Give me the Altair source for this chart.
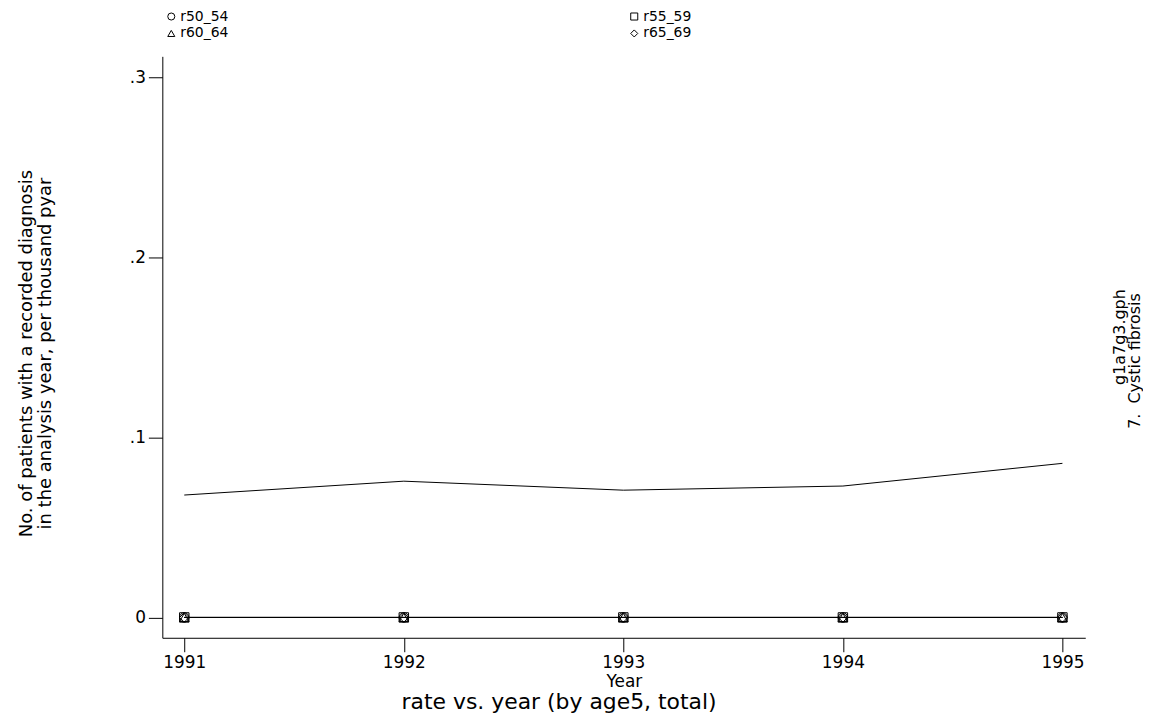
import altair as alt
import pandas as pd

years = [1991, 1992, 1993, 1994, 1995]
series_names = ["r50_54", "r55_59", "r60_64", "r65_69"]
r50_54 = [0, 0, 0, 0, 0]
r55_59 = [0, 0, 0, 0, 0]
r60_64 = [0, 0, 0, 0, 0]
r65_69 = [0, 0, 0, 0, 0]
total = [0.068, 0.0757, 0.0707, 0.073, 0.0856]
y_ticks = [0, 0.1, 0.2, 0.3]

rows = []
for name, vals in zip(series_names, [r50_54, r55_59, r60_64, r65_69]):
    for yr, v in zip(years, vals):
        rows.append({"year": yr, "rate": v, "series": name})
df = pd.DataFrame(rows)
df_total = pd.DataFrame({"year": years, "rate": total, "series": "total"})

FONT = "DejaVu Sans"

xsc = alt.Scale(domain=[1990.9, 1995.104], nice=False, zero=False)
ysc = alt.Scale(domain=[-0.0113, 0.3117], nice=False, zero=False)

xaxis = alt.Axis(values=years, format="d", title="Year", grid=False,
                 tickSize=14, labelPadding=3, titlePadding=3,
                 domainColor="black", tickColor="black", labelColor="black",
                 titleColor="black", labelFont=FONT, titleFont=FONT,
                 titleFontWeight="normal", titleFontSize=17, labelFontSize=17)
yaxis = alt.Axis(values=y_ticks, grid=False, tickSize=14, labelPadding=3,
                 domainColor="black", tickColor="black", labelColor="black",
                 titleColor="black", labelFont=FONT, titleFont=FONT,
                 labelExpr="datum.value == 0 ? '0' : replace(format(datum.value, '.1f'), '0.', '.')",
                 title=["No. of patients with a recorded diagnosis",
                        "in the analysis year, per thousand pyar"],
                 titleAngle=270, titleX=-136, titleY=298, titleAlign="center",
                 titleBaseline="middle", titleLineHeight=19,
                 titleFontWeight="normal", titleFontSize=18, labelFontSize=17)

base = alt.Chart(df)

lines = base.mark_line(color="black", strokeWidth=1).encode(
    x=alt.X("year:Q", scale=xsc, axis=xaxis),
    y=alt.Y("rate:Q", scale=ysc, axis=yaxis),
    detail="series:N",
)

points = base.mark_point(filled=False, color="black", size=90, strokeWidth=1, opacity=1).encode(
    x=alt.X("year:Q", scale=xsc),
    y=alt.Y("rate:Q", scale=ysc),
    shape=alt.Shape("series:N",
                    scale=alt.Scale(domain=series_names,
                                    range=["circle", "square", "triangle-up", "diamond"]),
                    legend=alt.Legend(title=None, orient="none", legendX=2, legendY=-47,
                                      direction="horizontal",
                                      columns=2, columnPadding=400, rowPadding=3,
                                      symbolSize=50, symbolStrokeColor="black",
                                      symbolFillColor="transparent", symbolStrokeWidth=1,
                                      labelFont=FONT, labelFontSize=14, labelColor="black",
                                      labelOffset=2)),
)

total_line = alt.Chart(df_total).mark_line(color="black", strokeWidth=1).encode(
    x=alt.X("year:Q", scale=xsc),
    y=alt.Y("rate:Q", scale=ysc),
)

side = pd.DataFrame({"t": ["g1a7g3.gph", "7.\u00a0 Cystic fibrosis"],
                     "px": [962, 977], "py": [282, 306]})
side_text = alt.Chart(side).mark_text(angle=270, font=FONT, fontSize=16, color="black",
                                      align="center", baseline="middle").encode(
    x=alt.X("px:Q", scale=None), y=alt.Y("py:Q", scale=None), text="t:N")

chart = alt.layer(lines, total_line, points, side_text).properties(
    width=927, height=584,
    background="white",
    title=alt.TitleParams("rate vs. year (by age5, total)", orient="bottom",
                          font=FONT, fontSize=22, fontWeight="normal", color="black",
                          offset=3, dx=-65),
    autosize=alt.AutoSizeParams(type="none"),
    padding={"left": 155, "top": 47, "right": 58, "bottom": 76},
).configure_view(strokeWidth=0, stroke="transparent")

chart.save("out.html", embed_options={"renderer": "svg", "actions": False})
